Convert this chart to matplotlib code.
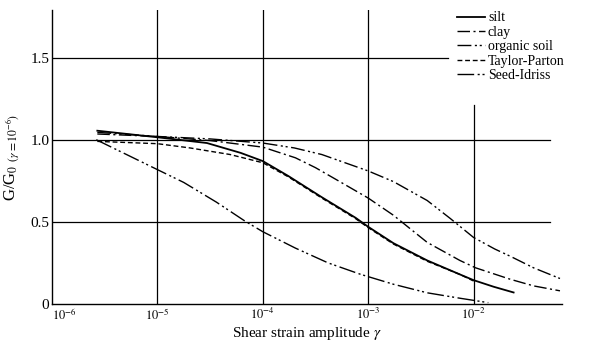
import numpy as np
import matplotlib
matplotlib.use("Agg")
import matplotlib.pyplot as plt

plt.rcParams['font.family'] = ['Liberation Serif', 'DejaVu Serif']
plt.rcParams['mathtext.fontset'] = 'stix'

# values: log10(strain) and G/G0
silt_log = [-5.57, -5.0, -4.53, -4.21, -4.0, -3.76, -3.44, -3.12, -3.0, -2.76, -2.44, -2.13, -2.0, -1.81, -1.62]
silt_g = [1.055, 1.015, 0.98, 0.92, 0.87, 0.78, 0.65, 0.525, 0.47, 0.37, 0.265, 0.18, 0.145, 0.105, 0.07]

clay_log = [-5.57, -5.0, -4.5, -4.0, -3.69, -3.5, -3.31, -3.0, -2.76, -2.44, -2.13, -1.98, -1.65, -1.43, -1.18]
clay_g = [1.035, 1.02, 0.995, 0.955, 0.89, 0.83, 0.76, 0.645, 0.54, 0.375, 0.265, 0.22, 0.15, 0.11, 0.08]

organic_log = [-5.57, -5.0, -4.5, -4.0, -3.7, -3.44, -3.0, -2.76, -2.44, -2.22, -2.0, -1.8, -1.65, -1.43, -1.18]
organic_g = [1.045, 1.02, 1.005, 0.98, 0.95, 0.91, 0.81, 0.745, 0.63, 0.52, 0.405, 0.335, 0.29, 0.22, 0.155]

tp_log = [-5.57, -5.0, -4.69, -4.31, -4.0, -3.76, -3.44, -3.12, -3.0, -2.76, -2.44, -2.13, -2.0]
tp_g = [0.99, 0.976, 0.95, 0.91, 0.86, 0.775, 0.645, 0.52, 0.465, 0.365, 0.26, 0.18, 0.14]

si_log = [-5.58, -5.07, -4.75, -4.44, -4.17, -4.0, -3.69, -3.38, -3.07, -2.76, -2.44, -2.13, -1.98, -1.86]
si_g = [1.0, 0.84, 0.74, 0.62, 0.505, 0.44, 0.34, 0.25, 0.18, 0.12, 0.068, 0.035, 0.02, 0.008]

x_ticks = [1e-6, 1e-5, 1e-4, 1e-3, 1e-2]
x_ticklabels = [r'$10^{-6}$', r'$10^{-5}$', r'$10^{-4}$', r'$10^{-3}$', r'$10^{-2}$']
y_ticks = [0, 0.5, 1.0, 1.5]
y_ticklabels = ['0', '0.5', '1.0', '1.5']

fig = plt.figure(figsize=(5.89, 3.51), dpi=100)
ax = fig.add_axes([0.0883, 0.134, 0.866, 0.8375])
ax.set_xscale('log')
xmax = 10 ** -1.16
ymax = 1.79
ax.set_xlim(1e-6, xmax)
ax.set_ylim(0, ymax)

# grid lines of uneven length, as in the original
gk = dict(color='black', lw=0.9, zorder=1)
ax.plot([1e-6, 10 ** -1.27], [0.5, 0.5], **gk)
ax.plot([1e-6, 10 ** -1.27], [1.0, 1.0], **gk)
ax.plot([1e-6, 10 ** -2.24], [1.5, 1.5], **gk)
for xv in [1e-5, 1e-4, 1e-3]:
    ax.plot([xv, xv], [0, ymax], **gk)
ax.plot([1e-2, 1e-2], [0, 1.21], **gk)

lw = 1.0
ax.plot(10 ** np.array(silt_log), silt_g, color='black', lw=1.3, ls='-', label='silt', zorder=3)
ax.plot(10 ** np.array(clay_log), clay_g, color='black', lw=lw, ls=(0, (9, 2.5, 1.5, 2.5)), label='clay', zorder=3)
ax.plot(10 ** np.array(organic_log), organic_g, color='black', lw=lw, ls=(0, (10, 2.5, 1.5, 2, 1.5, 2.5)),
        label='organic soil', zorder=3)
ax.plot(10 ** np.array(tp_log), tp_g, color='black', lw=lw, ls=(0, (3.5, 2)), label='Taylor-Parton', zorder=3)
ax.plot(10 ** np.array(si_log), si_g, color='black', lw=lw, ls=(0, (12, 2.5, 1.5, 2, 1.5, 2.5)),
        label='Seed-Idriss', zorder=3)

for s in ['top', 'right']:
    ax.spines[s].set_visible(False)
ax.spines['left'].set_linewidth(1.0)
ax.spines['bottom'].set_linewidth(1.0)

ax.set_xticks(x_ticks)
ax.set_xticklabels(x_ticklabels, fontsize=9)
ax.minorticks_off()
ax.set_yticks(y_ticks)
ax.set_yticklabels(y_ticklabels, fontsize=11)
ax.tick_params(length=0, pad=2)
ax.get_xticklabels()[0].set_horizontalalignment('left')

ax.set_xlabel(r'Shear strain amplitude $\gamma$', fontsize=11, labelpad=2)
ax.set_ylabel(r'G/G$_0$ $_{(\gamma=10^{-6})}$', fontsize=12, labelpad=6)

fig.legend(loc='upper left', bbox_to_anchor=(0.76, 0.995), frameon=False, fontsize=10,
           handlelength=2.0, handletextpad=0.2, labelspacing=0.1, borderpad=0.2)

plt.savefig('out.png', dpi=100)
